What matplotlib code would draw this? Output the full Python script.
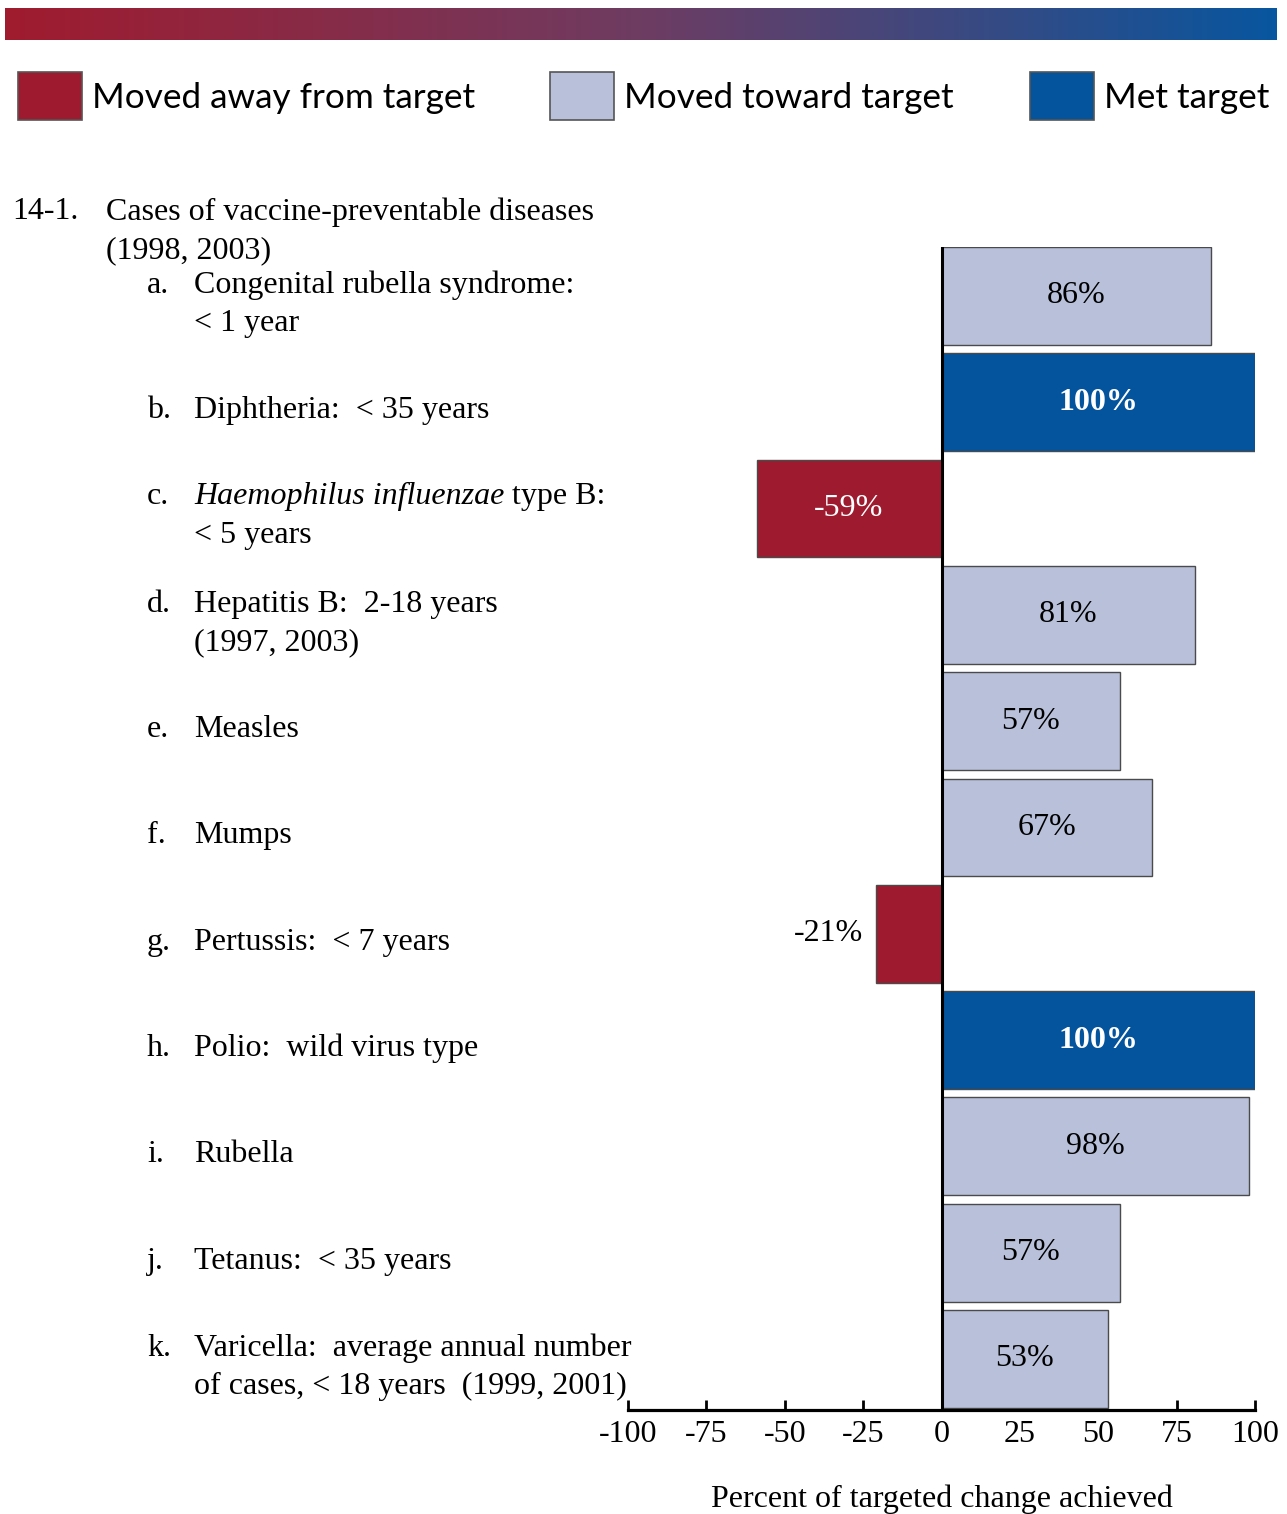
import matplotlib
matplotlib.use("Agg")
import matplotlib.pyplot as plt
import numpy as np
from matplotlib import transforms
from matplotlib.colors import LinearSegmentedColormap
from matplotlib.patches import Rectangle

# progress toward Healthy People targets, objective 14-1
letters = ["a.", "b.", "c.", "d.", "e.", "f.", "g.", "h.", "i.", "j.", "k."]
labels = [
    "Congenital rubella syndrome:\n< 1 year",
    "Diphtheria:  < 35 years",
    None,  # c. has an italic species name, drawn separately
    "Hepatitis B:  2-18 years\n(1997, 2003)",
    "Measles",
    "Mumps",
    "Pertussis:  < 7 years",
    "Polio:  wild virus type",
    "Rubella",
    "Tetanus:  < 35 years",
    "Varicella:  average annual number\nof cases, < 18 years  (1999, 2001)",
]
values = [86, 100, -59, 81, 57, 67, -21, 100, 98, 57, 53]
status = ["toward", "met", "away", "toward", "toward", "toward", "away",
          "met", "toward", "toward", "toward"]
ticks = [-100, -75, -50, -25, 0, 25, 50, 75, 100]

COLORS = {"away": "#9E1B2F", "toward": "#B8C0DA", "met": "#03539D"}
LEGEND = [("away", "Moved away from target"),
          ("toward", "Moved toward target"),
          ("met", "Met target")]
SERIF = "Liberation Serif"
SANS = "Lato"
FS = 23
LS = 1.42

W, H = 1287, 1514
fig = plt.figure(figsize=(W / 100, H / 100), dpi=100)


def fx(px):
    return px / W


def fy(py):
    return 1 - py / H


# gradient banner
bax = fig.add_axes([fx(5), fy(40), fx(1272), 32 / H])
cmap = LinearSegmentedColormap.from_list("banner", ["#A01B2E", "#6E3C62", "#08569F"])
bax.imshow(np.linspace(0, 1, 256)[None, :], aspect="auto", cmap=cmap)
bax.set_axis_off()

# legend
for (key, text), px in zip(LEGEND, [18, 550, 1030]):
    fig.add_artist(Rectangle((fx(px), fy(120)), fx(64), 48 / H, transform=fig.transFigure,
                             facecolor=COLORS[key], edgecolor="#555555", linewidth=1.2))
    fig.text(fx(px + 74), fy(98), text, family=SANS, fontsize=25.3, va="center", ha="left")

# main bar axes
ax = fig.add_axes([fx(628), fy(1410), fx(627), (1410 - 247) / H])
n = len(values)
ypos = np.arange(n)[::-1]
colors = [COLORS[s] for s in status]
ax.barh(ypos, values, height=0.92, color=colors, edgecolor="#4a4a4a", linewidth=1.0, zorder=2)
ax.set_xlim(-100, 100)
ax.set_ylim(-0.48, n - 1 + 0.46)
ax.axvline(0, color="black", linewidth=2.2, zorder=3)

for side in ["top", "right", "left"]:
    ax.spines[side].set_visible(False)
ax.spines["bottom"].set_linewidth(2.3)
ax.set_yticks([])
ax.set_xticks(ticks)
ax.set_xticklabels([str(t) for t in ticks], family=SERIF, fontsize=FS)
ax.tick_params(axis="x", direction="in", length=7, width=2.0, pad=7)
ax.set_xlabel("Percent of targeted change achieved", family=SERIF, fontsize=FS, labelpad=26)

# value labels
for y, v, s in zip(ypos, values, status):
    txt = f"{v}%"
    if s == "met":
        ax.text(v / 2, y, txt, ha="center", va="center", family=SERIF, fontsize=FS,
                color="white", fontweight="bold", zorder=4)
    elif s == "away" and v < -40:
        ax.text(v / 2, y, txt, ha="center", va="center", family=SERIF, fontsize=FS,
                color="white", zorder=4)
    elif s == "away":
        ax.text(v - 4, y, txt, ha="right", va="center", family=SERIF, fontsize=FS, zorder=4)
    else:
        ax.text(v / 2, y, txt, ha="center", va="center", family=SERIF, fontsize=FS, zorder=4)

# row labels on the left; the letter sits on the first line of its label
tr = transforms.blended_transform_factory(fig.transFigure, ax.transData)
ytop = ypos[0] + 0.61
ax.text(fx(12), ytop, "14-1.\n ", transform=tr, family=SERIF, fontsize=FS,
        va="center", ha="left", linespacing=LS, clip_on=False)
ax.text(fx(106), ytop, "Cases of vaccine-preventable diseases\n(1998, 2003)",
        transform=tr, family=SERIF, fontsize=FS, va="center", ha="left",
        linespacing=LS, clip_on=False)

for y, let, lab in zip(ypos, letters, labels):
    if lab is None:
        continue
    nlines = lab.count("\n") + 1
    yl = y - 0.08
    ax.text(fx(147), yl, let + "\n " * (nlines - 1), transform=tr, family=SERIF,
            fontsize=FS, va="center", ha="left", linespacing=LS, clip_on=False)
    ax.text(fx(194), yl, lab, transform=tr, family=SERIF, fontsize=FS,
            va="center", ha="left", linespacing=LS, clip_on=False)

# c. Haemophilus influenzae type B
yc = ypos[2]
ax.text(fx(147), yc + 0.11, "c.", transform=tr, family=SERIF, fontsize=FS,
        va="center", ha="left", clip_on=False)
t1 = ax.text(fx(194), yc + 0.11, "Haemophilus influenzae", transform=tr, family=SERIF,
             fontsize=FS, style="italic", va="center", ha="left", clip_on=False)
ax.annotate(" type B:", xy=(1, 0), xycoords=t1, va="bottom", ha="left",
            family=SERIF, fontsize=FS, annotation_clip=False)
ax.text(fx(194), yc - 0.25, "< 5 years", transform=tr, family=SERIF, fontsize=FS,
        va="center", ha="left", clip_on=False)

fig.savefig("out.png", dpi=100)
